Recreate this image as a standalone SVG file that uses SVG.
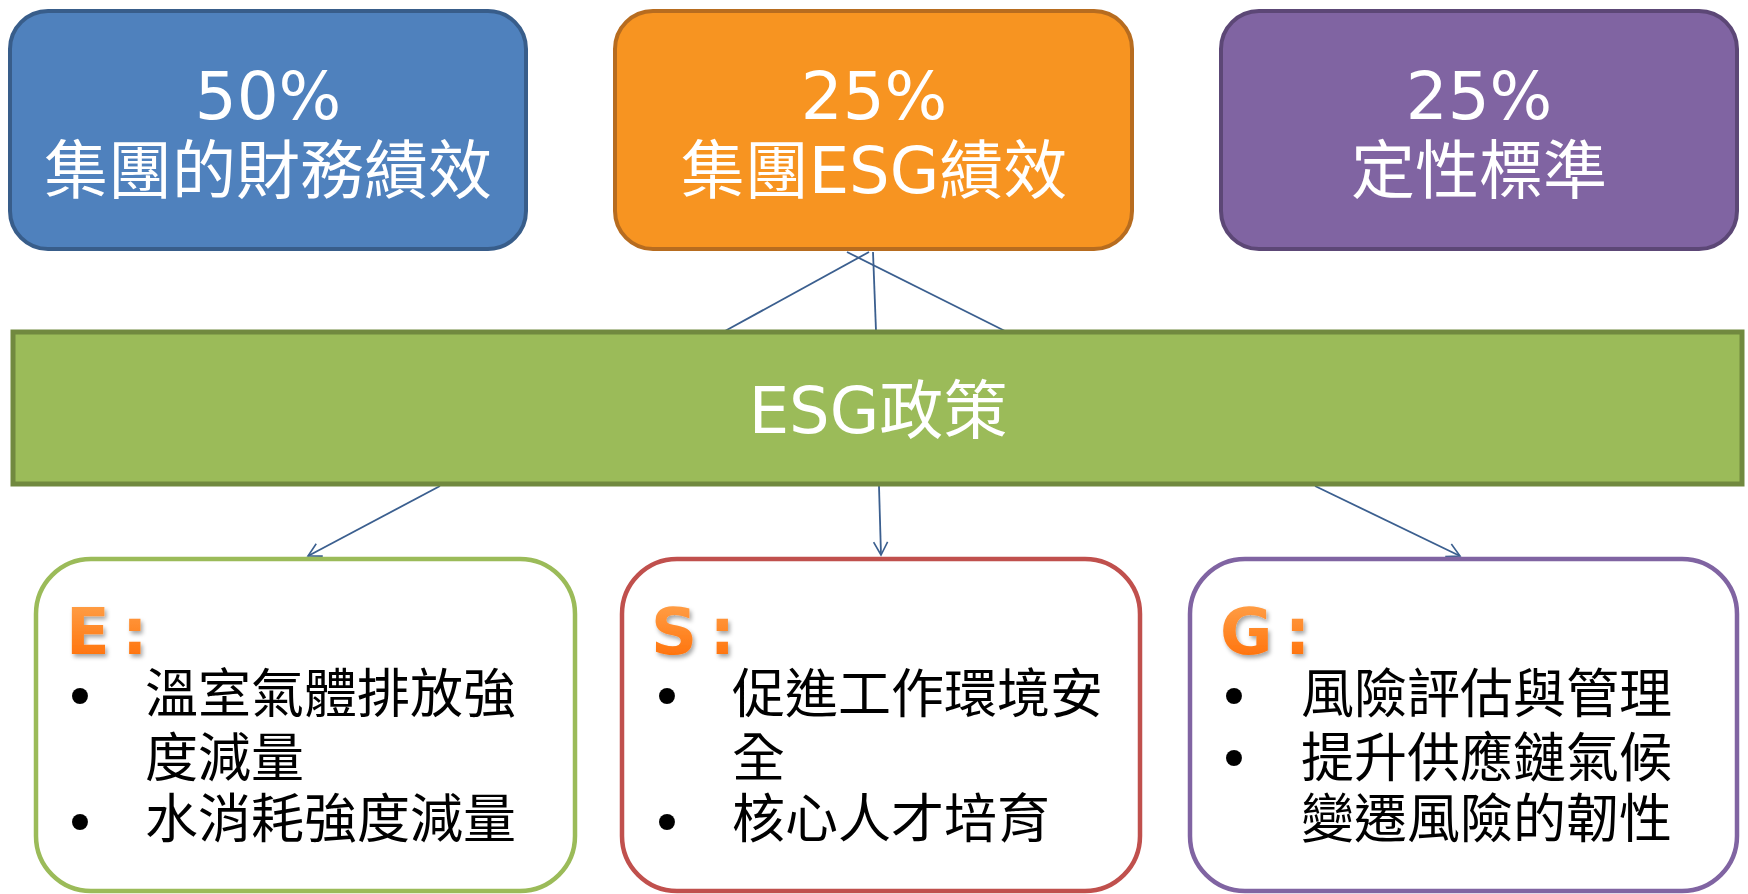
<svg xmlns="http://www.w3.org/2000/svg" width="1748" height="894" viewBox="0 0 1748 894">
<defs>
<linearGradient id="og" x1="0" y1="0" x2="0" y2="1">
<stop offset="0" stop-color="#ffa54f"/>
<stop offset="1" stop-color="#ff6a00"/>
</linearGradient>
<filter id="sh" x="-20%" y="-20%" width="150%" height="150%">
<feDropShadow dx="2" dy="3" stdDeviation="2" flood-color="#000" flood-opacity="0.35"/>
</filter>
<marker id="arr" markerWidth="16" markerHeight="16" refX="14" refY="8" orient="auto" markerUnits="userSpaceOnUse">
<path d="M1,1 L14,8 L1,15" fill="none" stroke="#3b5f8f" stroke-width="1.6"/>
</marker>
</defs>
<style>
.top{font-family:'DejaVu Sans','Noto Sans CJK TC',sans-serif;fill:#fff;text-anchor:middle}
.pct{font-size:66px}
.ttl{font-size:64px}
.body{font-family:'Noto Sans CJK TC','Noto Sans CJK SC',sans-serif;font-size:53px;fill:#000}
.bul{font-family:'DejaVu Sans',sans-serif;font-size:55px;fill:#000;text-anchor:middle}
.lab{font-family:'DejaVu Sans',sans-serif;font-weight:bold;font-size:64px;word-spacing:-10px;fill:url(#og);filter:url(#sh)}
.conn{stroke:#3b5f8f;stroke-width:1.8;fill:none}
</style>
<rect width="1748" height="894" fill="#fff"/>
<g id="box-finance">
<rect x="10" y="11" width="516" height="238" rx="38" fill="#4f81bd" stroke="#385d8a" stroke-width="4"/>
<text class="top pct" x="268" y="119">50%</text>
<text class="top ttl" x="268" y="193">集團的財務績效</text>
</g>
<g id="box-esg-perf">
<rect x="615" y="11" width="517" height="238" rx="38" fill="#f79421" stroke="#b76c1f" stroke-width="4"/>
<text class="top pct" x="874" y="119">25%</text>
<text class="top ttl" x="874" y="193">集團ESG績效</text>
</g>
<g id="box-qual">
<rect x="1221" y="11" width="516" height="238" rx="38" fill="#8064a2" stroke="#5c4776" stroke-width="4"/>
<text class="top pct" x="1479" y="119">25%</text>
<text class="top ttl" x="1479" y="193">定性標準</text>
</g>
<g id="connectors">
<line class="conn" x1="869" y1="252" x2="725" y2="331"/>
<line class="conn" x1="873" y1="252" x2="876" y2="331"/>
<line class="conn" x1="847" y1="252" x2="1005" y2="331"/>
<line class="conn" x1="440" y1="486" x2="308" y2="556" marker-end="url(#arr)"/>
<line class="conn" x1="879" y1="486" x2="881" y2="555" marker-end="url(#arr)"/>
<line class="conn" x1="1315" y1="486" x2="1460" y2="556" marker-end="url(#arr)"/>
</g>
<g id="esg-policy">
<rect x="13" y="332" width="1729" height="152" fill="#9bbb59" stroke="#71893f" stroke-width="5"/>
<text class="top ttl" x="878" y="433">ESG政策</text>
</g>
<g id="box-e">
<rect x="36" y="559" width="539" height="332" rx="55" fill="#fff" stroke="#9bbb59" stroke-width="4.5"/>
<text class="lab" x="66" y="654">E :</text>
<text class="bul" x="80" y="717">•</text>
<text class="body" x="145" y="713">溫室氣體排放強</text>
<text class="body" x="145" y="777">度減量</text>
<text class="bul" x="80" y="843">•</text>
<text class="body" x="145" y="838">水消耗強度減量</text>
</g>
<g id="box-s">
<rect x="622" y="559" width="518" height="332" rx="55" fill="#fff" stroke="#c0504d" stroke-width="4.5"/>
<text class="lab" x="651" y="654">S :</text>
<text class="bul" x="667" y="717">•</text>
<text class="body" x="732" y="713">促進工作環境安</text>
<text class="body" x="732" y="777">全</text>
<text class="bul" x="667" y="843">•</text>
<text class="body" x="732" y="838">核心人才培育</text>
</g>
<g id="box-g">
<rect x="1190" y="559" width="547" height="332" rx="55" fill="#fff" stroke="#8064a2" stroke-width="4.5"/>
<text class="lab" x="1220" y="654">G :</text>
<text class="bul" x="1234" y="717">•</text>
<text class="body" x="1301" y="713">風險評估與管理</text>
<text class="bul" x="1234" y="779">•</text>
<text class="body" x="1301" y="777">提升供應鏈氣候</text>
<text class="body" x="1301" y="838">變遷風險的韌性</text>
</g>
</svg>
